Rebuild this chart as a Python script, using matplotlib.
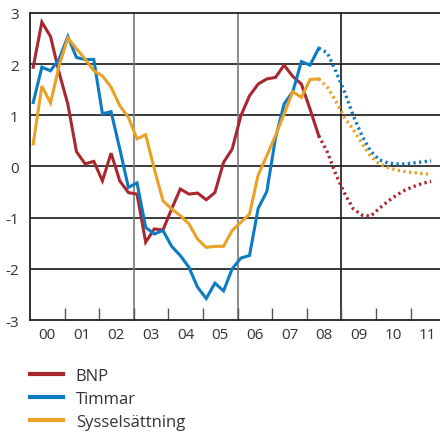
import numpy as np
import matplotlib
matplotlib.use("Agg")
import matplotlib.pyplot as plt

plt.rcParams['font.family'] = ['Open Sans', 'DejaVu Sans']

# Quarterly outcomes 2000Q1 - 2008Q2
bnp = [1.94, 2.82, 2.54, 1.83, 1.22, 0.29, 0.05, 0.10, -0.28, 0.26, -0.28, -0.51,
       -0.54, -1.48, -1.22, -1.24, -0.83, -0.44, -0.54, -0.52, -0.65, -0.51, 0.08, 0.34,
       0.99, 1.38, 1.61, 1.71, 1.74, 1.98, 1.76, 1.61, 1.12, 0.60]
timmar = [1.25, 1.94, 1.87, 2.10, 2.54, 2.13, 2.09, 2.09, 1.03, 1.07, 0.35, -0.41,
          -0.32, -1.19, -1.32, -1.25, -1.56, -1.74, -1.97, -2.36, -2.58, -2.28, -2.43, -2.00,
          -1.79, -1.74, -0.82, -0.49, 0.55, 1.22, 1.46, 2.05, 1.98, 2.31]
syss = [0.44, 1.57, 1.24, 1.97, 2.51, 2.30, 2.10, 1.87, 1.77, 1.55, 1.19, 0.96,
        0.54, 0.62, -0.05, -0.67, -0.83, -0.96, -1.12, -1.42, -1.58, -1.56, -1.56, -1.25,
        -1.09, -0.93, -0.17, 0.21, 0.60, 1.03, 1.46, 1.35, 1.70, 1.71]

# Forecast 2008Q3 - 2011Q3
bnp_prog = [0.28, -0.16, -0.53, -0.83, -0.95, -0.97, -0.82, -0.68, -0.56, -0.46, -0.39, -0.33, -0.29]
timmar_prog = [2.22, 1.85, 1.45, 0.99, 0.60, 0.30, 0.13, 0.07, 0.05, 0.05, 0.07, 0.09, 0.11]
syss_prog = [1.55, 1.27, 0.95, 0.72, 0.45, 0.20, 0.05, -0.02, -0.07, -0.10, -0.12, -0.14, -0.15]

year_labels = ['00', '01', '02', '03', '04', '05', '06', '07', '08', '09', '10', '11']
labels = ['BNP', 'Timmar', 'Sysselsättning']
colors = ['#A9282F', '#0A7BC4', '#E9A126']

n_out = len(bnp)
n_all = n_out + len(bnp_prog)
x = 2000 + (np.arange(n_all) + 0.38) / 4

fig = plt.figure(figsize=(4.4, 4.35), dpi=100)
ax = fig.add_axes([0.068, 0.262, 0.932, 0.706])

for y in [-2, -1, 0, 1, 2]:
    ax.axhline(y, color='#2b2b2b', lw=1.3, zorder=1)
for xv, c in [(2003, '#7a7a7a'), (2006, '#7a7a7a'), (2009, '#1a1a1a')]:
    ax.axvline(xv, color=c, lw=1.2, zorder=1)

handles = []
for out, prog, c, lab in zip([bnp, timmar, syss], [bnp_prog, timmar_prog, syss_prog], colors, labels):
    h, = ax.plot(x[:n_out], out, color=c, lw=2.2, solid_joinstyle='miter', zorder=3, label=lab)
    ax.plot(x[n_out - 1:], [out[-1]] + prog, color=c, lw=2.4, linestyle=(0, (0.7, 1.0)), zorder=3)
    handles.append(h)

ax.set_xlim(2000, 2011.85)
ax.set_ylim(-3, 3)
ax.set_yticks([-3, -2, -1, 0, 1, 2, 3])
ax.set_yticklabels(['-3', '-2', '-1', '0', '1', '2', '3'])
ax.tick_params(axis='y', length=0, pad=8, labelsize=11, labelcolor='#333333')

ax.set_xticks(np.arange(2001, 2012), minor=True)
ax.set_xticks(np.arange(2000, 2012) + 0.5)
ax.set_xticklabels(year_labels)
ax.tick_params(axis='x', which='major', length=0, pad=5, labelsize=11, labelcolor='#333333')
ax.tick_params(axis='x', which='minor', direction='in', length=9, width=1, color='#555555')

for side in ['left', 'bottom', 'top']:
    ax.spines[side].set_color('#222222')
    ax.spines[side].set_linewidth(1.3)
ax.spines['right'].set_visible(False)

fig.legend(handles=handles, labels=labels, loc='upper left', bbox_to_anchor=(0.068, 0.152),
           frameon=False, fontsize=12, handlelength=2.0, handletextpad=0.75,
           labelspacing=0.42, borderaxespad=0, borderpad=0)
for lh in fig.legends[0].get_lines():
    lh.set_linewidth(3)
for t in fig.legends[0].get_texts():
    t.set_color('#333333')

fig.savefig('out.png', dpi=100)
